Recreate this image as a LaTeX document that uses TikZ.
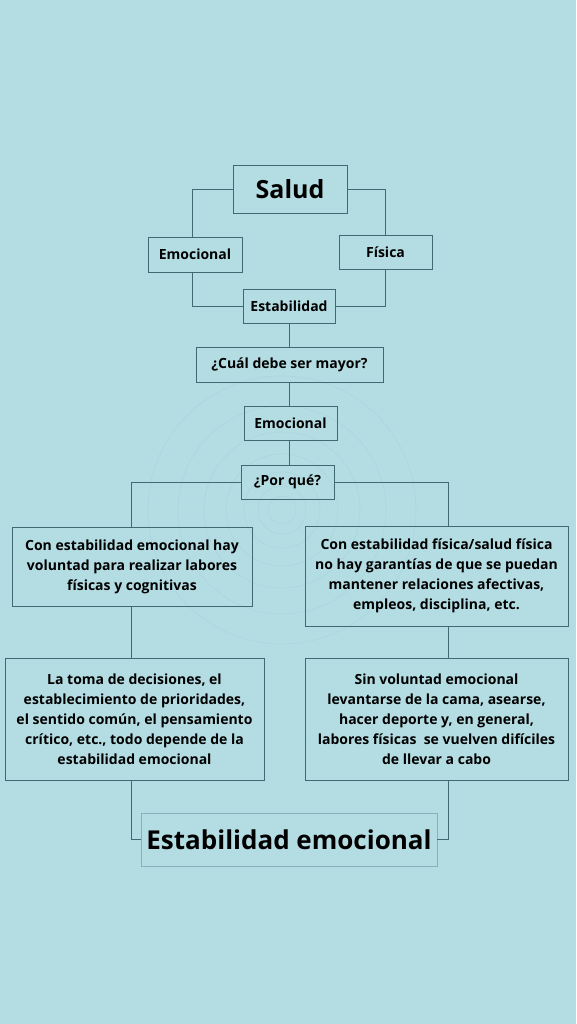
\documentclass[tikz,border=0pt]{standalone}
\usepackage{fontspec}
\setmainfont{Open Sans}
\usepackage{tikz}
\usetikzlibrary{positioning,calc}
\definecolor{paperblue}{HTML}{B4DDE3}
\definecolor{ringblue}{HTML}{A0CFD7}
\definecolor{linegrey}{HTML}{3F6A71}
\definecolor{softline}{HTML}{86B2B9}

\begin{document}
\begin{tikzpicture}[
  x=1pt, y=-1pt,
  font=\bfseries\fontsize{14}{20}\selectfont,
  box/.style={draw=linegrey, line width=0.7pt, align=center, inner sep=0pt,
              text=black},
  small/.style={box, minimum height=34pt},
  para/.style={box},
  link/.style={draw=linegrey, line width=0.7pt},
]
% background
\fill[paperblue] (0,0) rectangle (576,1024);
\useasboundingbox (0,0) rectangle (576,1024);
\foreach \r in {14,24,38,56,78,104,134}
  \draw[ringblue, line width=0.6pt, opacity=0.5] (282,510) circle (\r);

% top block
\node[box, minimum width=114pt, minimum height=48pt,
      font=\bfseries\fontsize{25}{28}\selectfont] (salud) at (290,189) {Salud};
\node[small, minimum width=94pt, minimum height=35pt] (emo) at (195,254.5) {Emocional};
\node[small, minimum width=93pt] (fis) at (385.5,252) {Física};
\node[small, minimum width=92pt] (estab) at (289,306) {Estabilidad};

% middle column
\node[small, minimum width=187pt, minimum height=35pt] (cual) at (289.5,364.5) {¿Cuál debe ser mayor?};
\node[small, minimum width=93pt] (emodos) at (290.5,423) {Emocional};
\node[small, minimum width=93pt] (porque) at (287.5,482) {¿Por qué?};

% two columns
\coordinate (lcol) at (131,0);
\coordinate (rcol) at (448,0);
\coordinate (mcol) at (289,0);
\node[para, minimum width=240pt, minimum height=79pt] (luno) at (132,566.5)
  {Con estabilidad emocional hay\\ voluntad para realizar labores\\ físicas y cognitivas};
\node[para, minimum width=263pt, minimum height=100pt] (runo) at (436.5,576)
  {Con estabilidad física/salud física\\ no hay garantías de que se puedan\\
   mantener relaciones afectivas,\\ empleos, disciplina, etc.};
\node[para, minimum width=259pt, minimum height=122pt] (ldos) at (134.5,719)
  {La toma de decisiones, el\\ establecimiento de prioridades,\\
   el sentido común, el pensamiento\\ crítico, etc., todo depende de la\\
   estabilidad emocional};
\node[para, minimum width=263pt, minimum height=122pt] (rdos) at (436.5,719)
  {Sin voluntad emocional\\ levantarse de la cama, asearse,\\
   hacer deporte y, en general,\\ labores físicas\ \ se vuelven difíciles\\
   de llevar a cabo};

% conclusion
\node[box, draw=softline, minimum width=296pt, minimum height=53pt,
      font=\bfseries\fontsize{26}{28}\selectfont] (final) at (289,839.5) {Estabilidad emocional};

% connectors
\draw[link] (salud.west) -| (emo.north -| 192,0);
\draw[link] (salud.east) -| (fis.north);
\draw[link] (emo.south -| 192,0) |- (estab.west);
\draw[link] (fis.south) |- (estab.east);
\draw[link] (estab.south -| mcol) -- (cual.north -| mcol);
\draw[link] (cual.south -| mcol) -- (emodos.north -| mcol);
\draw[link] (emodos.south -| mcol) -- (porque.north -| mcol);
\draw[link] (porque.west) -| (luno.north -| lcol);
\draw[link] (porque.east) -| (runo.north -| rcol);
\draw[link] (luno.south -| lcol) -- (ldos.north -| lcol);
\draw[link] (runo.south -| rcol) -- (rdos.north -| rcol);
\draw[link] (ldos.south -| lcol) |- (final.west);
\draw[link] (rdos.south -| rcol) |- (final.east);
\end{tikzpicture}
\end{document}
